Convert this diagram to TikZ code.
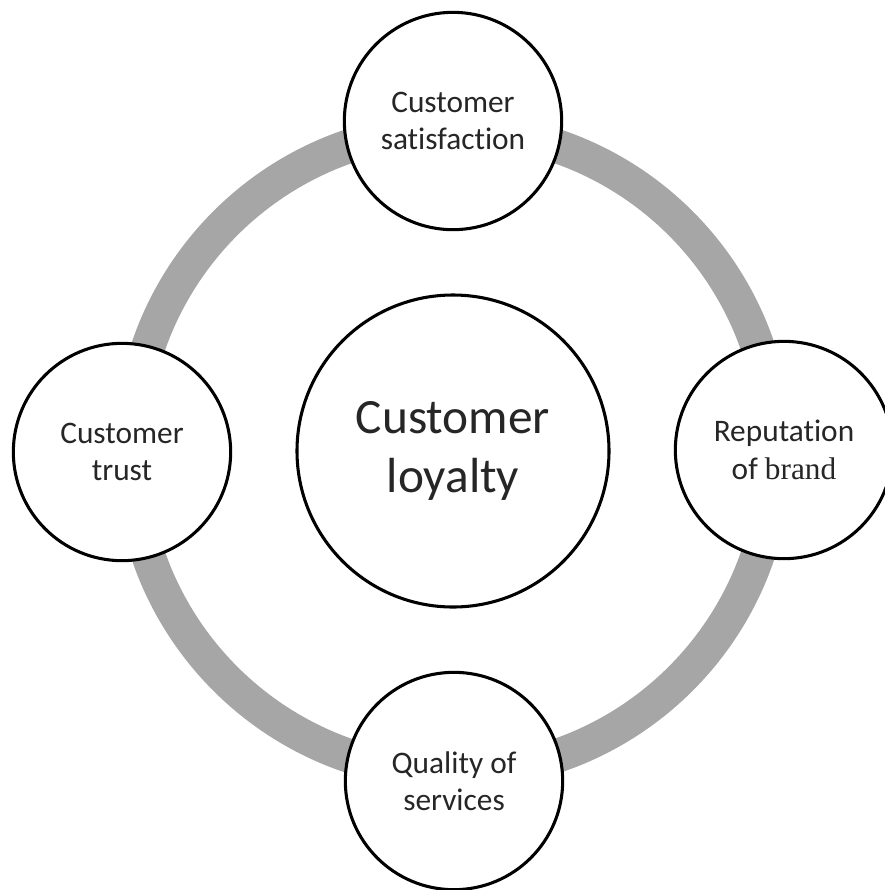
\documentclass[tikz,border=0pt]{standalone}
\usepackage{fontspec}
\setmainfont{Carlito}[RawFeature={-liga;-clig;-calt;-ccmp;-dlig}]
\newfontfamily\brandfont{Liberation Serif}
\usepackage{tikz}
\usepackage{xcolor}

\tikzset{
  ring/.style={draw=black!35, line width=25.5pt},
  factor/.style={circle, draw=black, line width=2.3pt, fill=white, minimum size=163pt,
    align=center, text=black!85, font=\fontsize{23.5}{28}\selectfont},
  core/.style={circle, draw=black, line width=2.3pt, fill=white, minimum size=234pt,
    align=center, text=black!85, font=\fontsize{37}{44}\selectfont}
}

\begin{document}
\begin{tikzpicture}[x=0.75pt,y=0.75pt,yscale=-1,xscale=1]
    \useasboundingbox (0,0) rectangle (885,890); %set diagram to 885 by 890

    %Shape: Ring
    \coordinate (hub) at (453,451);
    \draw [ring] (hub) circle [radius=322];

    %Shape: Circle (centre)
    \node [core] (loyalty) at (hub) {Customer\\loyalty};

    %Shape: Circle (top)
    \node [factor] (satisfaction) at (453,121) {Customer\\satisfaction};
    %Shape: Circle (left)
    \node [factor] (trust) at (122,452) {Customer\\trust};
    %Shape: Circle (right)
    \node [factor] (brand) at (784,450) {Reputation\\of {\brandfont brand}};
    %Shape: Circle (bottom)
    \node [factor] (quality) at (454,781) {Quality of\\services};

\end{tikzpicture}
\end{document}
